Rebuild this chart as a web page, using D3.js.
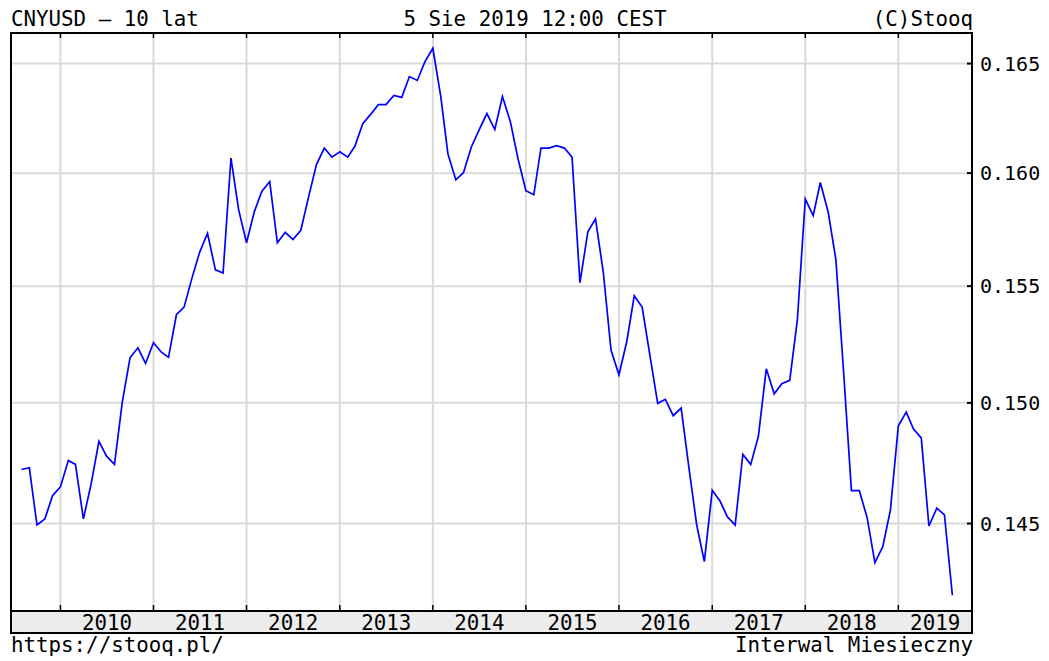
<!DOCTYPE html>
<html>
<head>
<meta charset="utf-8">
<script src="https://cdn.jsdelivr.net/npm/d3@7"></script>
<style>
  body { margin: 0; background: #fff; }
  text { font-family: "DejaVu Sans Mono", monospace; font-size: 20.8px; fill: #000; }
  .ytick { font-size: 20px; }
</style>
</head>
<body>
<svg id="chart"></svg>
<script>
var chart_w = 1049;
var chart_h = 661;

// monthly closes, Aug 2009 .. Aug 2019
var start_month = [2009, 7];
var cnyusd = [
  0.14722, 0.14729, 0.14494, 0.14519, 0.14614,
  0.14650, 0.14759, 0.14743, 0.14519, 0.14660, 0.14839, 0.14777, 0.14743, 0.15005, 0.15191, 0.15234, 0.15167,
  0.15256, 0.15215, 0.15193, 0.15376, 0.15409, 0.15535, 0.15648, 0.15732, 0.15571, 0.15557, 0.16068, 0.15837,
  0.15690, 0.15829, 0.15918, 0.15962, 0.15690, 0.15736, 0.15704, 0.15745, 0.15896, 0.16037, 0.16113, 0.16072,
  0.16096, 0.16072, 0.16121, 0.16224, 0.16265, 0.16311, 0.16311, 0.16353, 0.16344, 0.16440, 0.16422, 0.16509,
  0.16571, 0.16349, 0.16087, 0.15970, 0.16002, 0.16118, 0.16194, 0.16270, 0.16197, 0.16348, 0.16233, 0.16065,
  0.15921, 0.15903, 0.16113, 0.16113, 0.16124, 0.16113, 0.16072, 0.15515, 0.15738, 0.15796, 0.15557, 0.15223,
  0.15119, 0.15262, 0.15458, 0.15409, 0.15205, 0.14998, 0.15015, 0.14946, 0.14978, 0.14734, 0.14494, 0.14346,
  0.14636, 0.14591, 0.14528, 0.14494, 0.14784, 0.14743, 0.14860, 0.15144, 0.15038, 0.15081, 0.15095, 0.15355,
  0.15884, 0.15810, 0.15958, 0.15825, 0.15616, 0.15119, 0.14635, 0.14635, 0.14522, 0.14342, 0.14406, 0.14556,
  0.14904, 0.14961, 0.14891, 0.14853, 0.14490, 0.14563, 0.14535, 0.14211
];
var y_ticks = [0.145, 0.150, 0.155, 0.160, 0.165];
var years = [2010, 2011, 2012, 2013, 2014, 2015, 2016, 2017, 2018, 2019];

var left = 12, right = 972, top_ = 33, bottom = 611, band_h = 22;

var svg = d3.select("#chart").attr("width", chart_w).attr("height", chart_h);

var x = d3.scaleTime()
  .domain([new Date(2009, 5, 25), new Date(2019, 9, 17)])
  .range([left, right]);
var y = d3.scaleLog()
  .domain([0.141481, 0.166424])
  .range([bottom, top_]);

var data = cnyusd.map(function(v, i) {
  return { date: new Date(start_month[0], start_month[1] + i, 1), value: v };
});

// grid
svg.append("g").selectAll("line").data(y_ticks).enter().append("line")
  .attr("x1", left).attr("x2", right)
  .attr("y1", function(d) { return y(d); }).attr("y2", function(d) { return y(d); })
  .attr("stroke", "#dadada").attr("stroke-width", 2);

svg.append("g").selectAll("line").data(years).enter().append("line")
  .attr("x1", function(d) { return x(new Date(d, 0, 1)); })
  .attr("x2", function(d) { return x(new Date(d, 0, 1)); })
  .attr("y1", top_).attr("y2", bottom)
  .attr("stroke", "#dadada").attr("stroke-width", 2);

// year ticks, top and bottom of plot
svg.append("g").selectAll("line").data(years).enter().append("line")
  .attr("x1", function(d) { return x(new Date(d, 0, 1)); })
  .attr("x2", function(d) { return x(new Date(d, 0, 1)); })
  .attr("y1", top_).attr("y2", top_ + 5)
  .attr("stroke", "#000").attr("stroke-width", 1.5);
svg.append("g").selectAll("line").data(years).enter().append("line")
  .attr("x1", function(d) { return x(new Date(d, 0, 1)); })
  .attr("x2", function(d) { return x(new Date(d, 0, 1)); })
  .attr("y1", bottom - 6).attr("y2", bottom)
  .attr("stroke", "#000").attr("stroke-width", 1.5);

// price line
var line = d3.line()
  .x(function(d) { return x(d.date); })
  .y(function(d) { return y(d.value); });

svg.append("path").datum(data)
  .attr("d", line)
  .attr("fill", "none")
  .attr("stroke", "#0000ff")
  .attr("stroke-width", 1.7);

// year band
svg.append("rect")
  .attr("x", left).attr("y", bottom)
  .attr("width", right - left).attr("height", band_h)
  .attr("fill", "#ececec");
svg.append("line")
  .attr("x1", left).attr("x2", right).attr("y1", bottom).attr("y2", bottom)
  .attr("stroke", "#000").attr("stroke-width", 2);

svg.append("g").selectAll("text").data(years).enter().append("text")
  .attr("x", function(d) {
    var a = Math.max(x(new Date(d, 0, 1)), left);
    var b = Math.min(x(new Date(d + 1, 0, 1)), right);
    return (a + b) / 2;
  })
  .attr("y", bottom + 19)
  .attr("text-anchor", "middle")
  .text(function(d) { return d; });

// frame
svg.append("rect")
  .attr("x", 11).attr("y", top_)
  .attr("width", right - 11).attr("height", bottom + band_h - top_)
  .attr("fill", "none").attr("stroke", "#000").attr("stroke-width", 2);

// right axis
svg.append("g").selectAll("line").data(y_ticks).enter().append("line")
  .attr("x1", right - 5).attr("x2", right)
  .attr("y1", function(d) { return y(d); }).attr("y2", function(d) { return y(d); })
  .attr("stroke", "#000").attr("stroke-width", 2);

svg.append("g").selectAll("text").data(y_ticks).enter().append("text")
  .attr("class", "ytick")
  .attr("x", 980)
  .attr("y", function(d) { return y(d) + 7; })
  .text(function(d) { return d3.format(".3f")(d); });

// headers / footers
svg.append("text").attr("x", 11).attr("y", 26).text("CNYUSD – 10 lat");
svg.append("text").attr("x", 535).attr("y", 26).attr("text-anchor", "middle").text("5 Sie 2019 12:00 CEST");
svg.append("text").attr("x", 973).attr("y", 26).attr("text-anchor", "end").text("(C)Stooq");
svg.append("text").attr("x", 11).attr("y", 652).text("https://stooq.pl/");
svg.append("text").attr("x", 973).attr("y", 652).attr("text-anchor", "end").text("Interwal Miesieczny");
</script>
</body>
</html>
